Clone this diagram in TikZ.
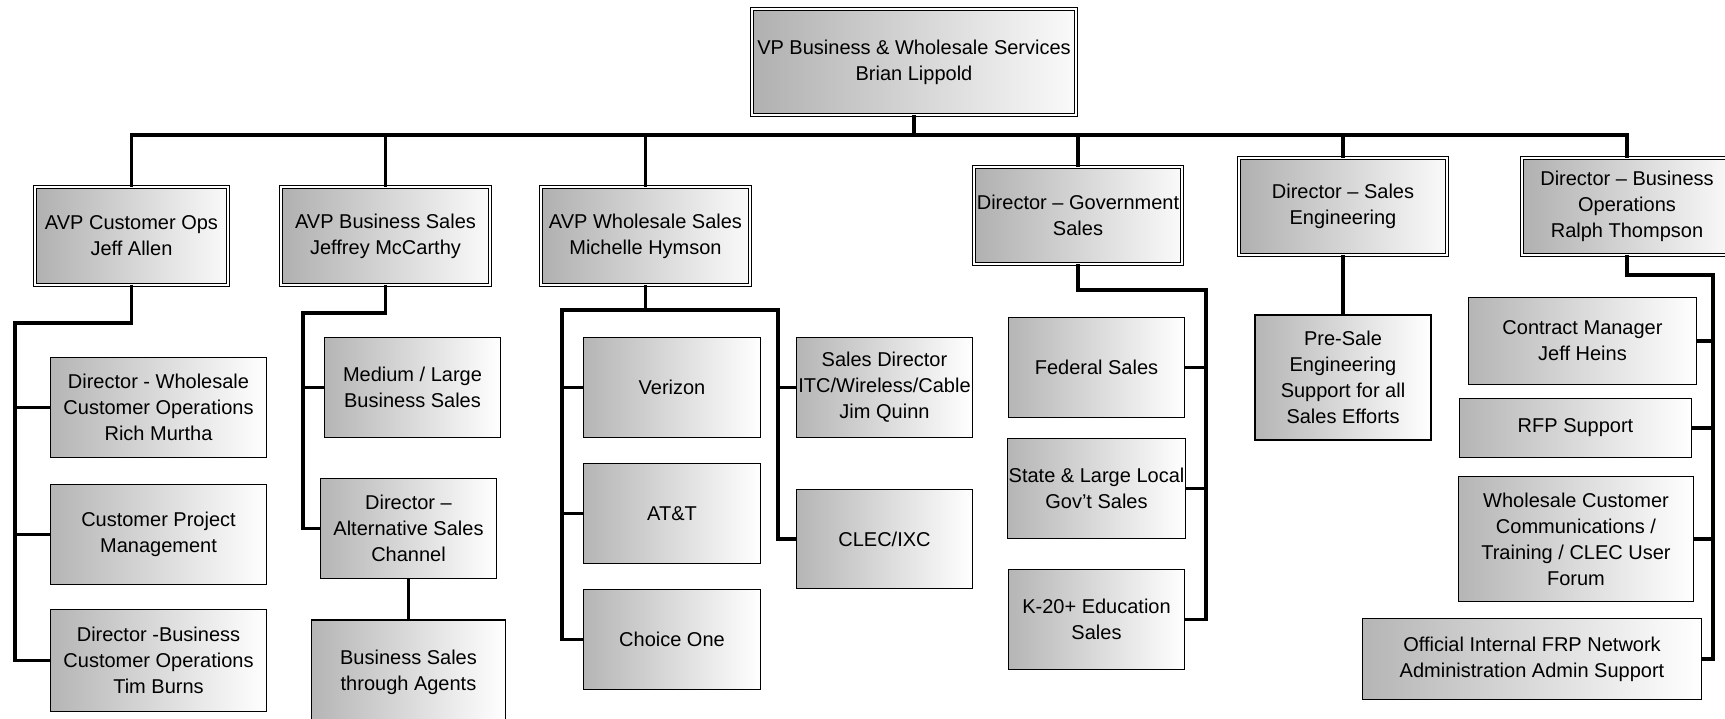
\documentclass[tikz,border=0pt]{standalone}
\usepackage{fontspec}
\setmainfont{Liberation Sans}
\tikzset{
  boxsize/.style 2 args={minimum width=#1pt, minimum height=#2pt},
  headbox/.style={rectangle, draw=black, line width=0.9pt, double=white, double distance=2.4pt,
                  left color=gray!62, middle color=gray!30, right color=gray!4,
                  align=center, inner sep=1pt, outer sep=0pt,
                  font=\fontsize{20}{26}\selectfont},
  unitbox/.style={rectangle, draw=black, line width=1.3pt,
                  left color=gray!58, middle color=gray!14, right color=white,
                  align=center, inner sep=1pt, outer sep=0pt,
                  font=\fontsize{20}{26}\selectfont},
  link/.style={line width=3.6pt, line join=miter},
}
\begin{document}
\begin{tikzpicture}[x=1pt, y=-1pt]
  \useasboundingbox (0,0) rectangle (1725,719);

  % Top
  \node[headbox, boxsize={324}{106}] (vp) at (914,62) {VP Business \& Wholesale Services\\Brian Lippold};

  % Second level
  \node[headbox, boxsize={193}{98}] (avpcust) at (131.5,236) {AVP Customer Ops\\Jeff Allen};
  \node[headbox, boxsize={209}{98}] (avpbus) at (385.5,236) {AVP Business Sales\\Jeffrey McCarthy};
  \node[headbox, boxsize={209}{98}] (avpwhl) at (645.5,236) {AVP Wholesale Sales\\Michelle Hymson};
  \node[headbox, boxsize={208}{97}] (dirgov) at (1078,215.5) {Director – Government\\Sales};
  \node[headbox, boxsize={208}{97}] (dirseng) at (1343,206.5) {Director – Sales\\Engineering};
  \node[headbox, boxsize={210}{97}] (dirbops) at (1627,206.5) {Director – Business\\Operations\\Ralph Thompson};

  % Customer ops
  \node[unitbox, boxsize={216}{100}] (dwco) at (158.5,407.5) {Director - Wholesale\\Customer Operations\\Rich Murtha};
  \node[unitbox, boxsize={216}{100}] (cpm) at (158.5,534.5) {Customer Project\\Management};
  \node[unitbox, boxsize={216}{102}] (dbco) at (158.5,660.5) {Director -Business\\Customer Operations\\Tim Burns};

  % Business sales
  \node[unitbox, boxsize={176}{100}] (mlbs) at (412.5,387.5) {Medium / Large\\Business Sales};
  \node[unitbox, boxsize={176}{100}] (dasc) at (408.5,528.5) {Director –\\Alternative Sales\\Channel};
  \node[unitbox, boxsize={194}{104}] (bsta) at (408.5,672) {Business Sales\\through Agents};

  % Wholesale sales
  \node[unitbox, boxsize={177}{100}] (verizon) at (672,387.5) {Verizon};
  \node[unitbox, boxsize={177}{100}] (att) at (672,513.5) {AT\&T};
  \node[unitbox, boxsize={177}{100}] (choice) at (672,639.5) {Choice One};
  \node[unitbox, boxsize={176}{100}] (itc) at (884.5,387.5) {Sales Director\\ITC/Wireless/Cable\\Jim Quinn};
  \node[unitbox, boxsize={176}{99}] (clec) at (884.5,539) {CLEC/IXC};

  % Government sales
  \node[unitbox, boxsize={176}{100}] (fed) at (1096.5,367.5) {Federal Sales};
  \node[unitbox, boxsize={176}{100}] (slg) at (1096.5,488.5) {State \& Large Local\\Gov't Sales};
  \node[unitbox, boxsize={176}{100}] (k20) at (1096.5,619.5) {K-20+ Education\\Sales};

  % Sales engineering
  \node[unitbox, boxsize={176}{125}] (presale) at (1343,377.5) {Pre-Sale\\Engineering\\Support for all\\Sales Efforts};

  % Business operations
  \node[unitbox, boxsize={228}{87}] (cmgr) at (1582.5,341) {Contract Manager\\Jeff Heins};
  \node[unitbox, boxsize={232}{59}] (rfp) at (1575.5,428) {RFP Support};
  \node[unitbox, boxsize={235}{125}] (wcc) at (1576,539) {Wholesale Customer\\Communications /\\Training / CLEC User\\Forum};
  \node[unitbox, boxsize={339}{81}] (ofrp) at (1532,659) {Official Internal FRP Network\\Administration Admin Support};

  % Bus coordinates
  \coordinate (topbus) at (0,135);
  \coordinate (cobus) at (15,323);
  \coordinate (bsbus) at (303,313);
  \coordinate (wsbusl) at (562,310);
  \coordinate (wsbusr) at (778,310);
  \coordinate (gvbus) at (1206,290);
  \coordinate (bobus) at (1713,275);

  % Connectors
  \draw[link] (avpcust.north) |- (topbus -| dirbops.north) -- (dirbops.north);
  \foreach \n in {vp.south, avpbus.north, avpwhl.north, dirgov.north, dirseng.north}
    \draw[link] (\n) -- (\n |- topbus);

  \draw[link] (avpcust.south) |- (cobus) |- (dbco.west);
  \foreach \n in {dwco, cpm}
    \draw[link] (cobus |- \n.west) -- (\n.west);

  \draw[link] (avpbus.south) |- (bsbus) |- (dasc.west);
  \draw[link] (bsbus |- mlbs.west) -- (mlbs.west);
  \draw[link] (dasc.south) -- (bsta.north);

  \draw[link] (avpwhl.south) -- (avpwhl.south |- wsbusl);
  \draw[link] (choice.west) -| (wsbusl) -- (wsbusr) |- (clec.west);
  \foreach \n in {verizon, att}
    \draw[link] (wsbusl |- \n.west) -- (\n.west);
  \draw[link] (wsbusr |- itc.west) -- (itc.west);

  \draw[link] (dirgov.south) |- (gvbus) |- (k20.east);
  \foreach \n in {fed, slg}
    \draw[link] (gvbus |- \n.east) -- (\n.east);

  \draw[link] (dirseng.south) -- (presale.north);

  \draw[link] (dirbops.south) |- (bobus) |- (ofrp.east);
  \foreach \n in {cmgr, rfp, wcc}
    \draw[link] (bobus |- \n.east) -- (\n.east);

\end{tikzpicture}
\end{document}
